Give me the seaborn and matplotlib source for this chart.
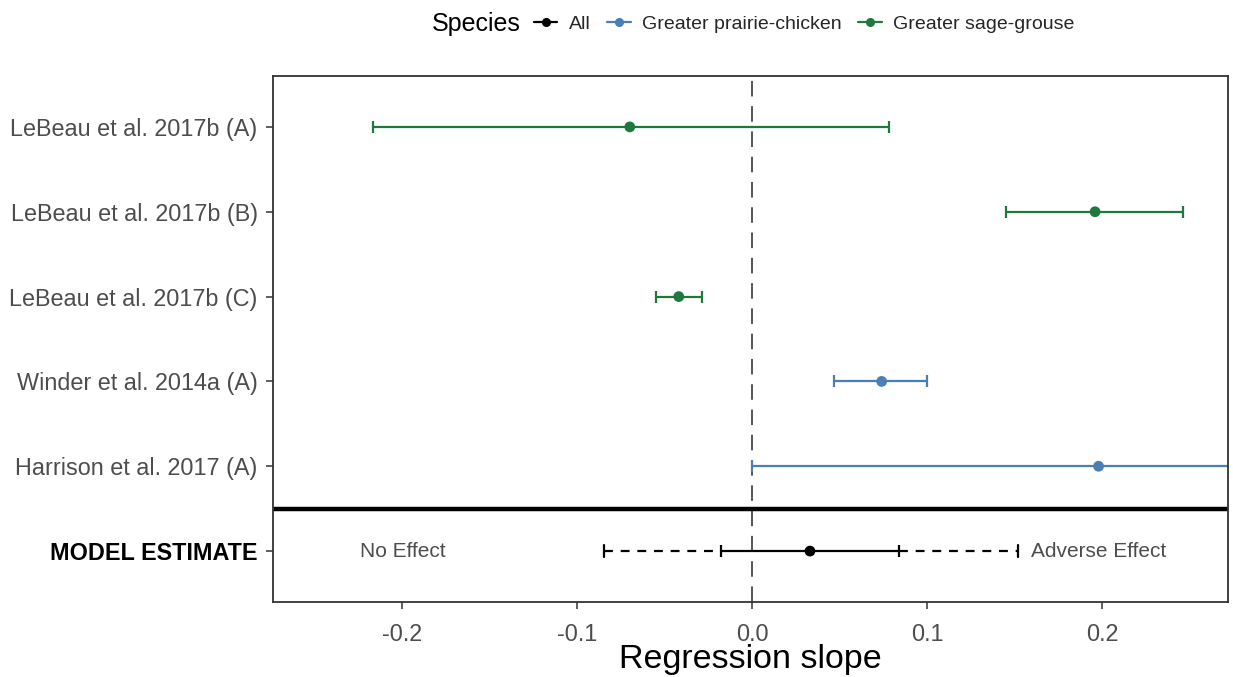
import matplotlib
matplotlib.use("Agg")
import matplotlib.pyplot as plt
from matplotlib.lines import Line2D
import seaborn as sns
import pandas as pd
import numpy as np

# ---------------- data ----------------
studies = ["LeBeau et al. 2017b (A)", "LeBeau et al. 2017b (B)", "LeBeau et al. 2017b (C)",
           "Winder et al. 2014a (A)", "Harrison et al. 2017 (A)"]
species = ["Greater sage-grouse", "Greater sage-grouse", "Greater sage-grouse",
           "Greater prairie-chicken", "Greater prairie-chicken"]
estimates = [-0.070, 0.196, -0.042, 0.074, 0.198]
lower = [-0.217, 0.145, -0.055, 0.047, 0.000]
upper = [0.078, 0.246, -0.029, 0.100, 0.400]

model_label = "MODEL ESTIMATE"
model_est = 0.033
model_ci = [-0.018, 0.084]
model_pi = [-0.085, 0.152]

species_order = ["All", "Greater prairie-chicken", "Greater sage-grouse"]
palette = {"All": "black", "Greater prairie-chicken": "#4a7fb6", "Greater sage-grouse": "#1e7a3c"}

# ---------------- figure ----------------
sns.set_theme(style="white")
plt.rcParams["font.family"] = ["Liberation Sans", "DejaVu Sans"]

fig = plt.figure(figsize=(12.33, 6.77), dpi=100)
ax = fig.add_axes([273/1233, 75/677, (1228-273)/1233, (602-76)/677])

df = pd.DataFrame({"study": studies, "species": species, "estimate": estimates,
                   "lower": lower, "upper": upper})
df["y"] = np.arange(len(df))
ymodel = len(df)

# zero line
ax.axvline(0, color="#555555", lw=1.4, ls=(0, (8, 5)), zorder=1)

# study intervals
for _, r in df.iterrows():
    c = palette[r["species"]]
    ax.errorbar(r["estimate"], r["y"],
                xerr=[[r["estimate"] - r["lower"]], [r["upper"] - r["estimate"]]],
                fmt="none", ecolor=c, elinewidth=1.6, capsize=4.5, capthick=1.6, zorder=2)

sns.scatterplot(data=df, x="estimate", y="y", hue="species", palette=palette,
                s=60, edgecolor="none", legend=False, ax=ax, zorder=3)

# model estimate: prediction interval (dashed) and CI (solid)
cap = 0.07
ax.plot([model_pi[0], model_ci[0]], [ymodel, ymodel], color="black", lw=1.6, ls=(0, (4, 3.5)), zorder=2)
ax.plot([model_ci[1], model_pi[1]], [ymodel, ymodel], color="black", lw=1.6, ls=(0, (4, 3.5)), zorder=2)
for xv in model_pi:
    ax.plot([xv, xv], [ymodel - cap, ymodel + cap], color="black", lw=1.6, zorder=2)
ax.errorbar(model_est, ymodel, xerr=[[model_est - model_ci[0]], [model_ci[1] - model_est]],
            fmt="none", ecolor="black", elinewidth=1.6, capsize=4.5, capthick=1.6, zorder=2)
sns.scatterplot(x=[model_est], y=[ymodel], color="black", s=60, edgecolor="none", ax=ax, zorder=3)

# separator line
ax.axhline(ymodel - 0.5, color="black", lw=3.2, zorder=2)

# annotations
ax.text(-0.2, ymodel, "No Effect", ha="center", va="center", fontsize=15, color="#4d4d4d")
ax.text(0.198, ymodel, "Adverse Effect", ha="center", va="center", fontsize=15, color="#4d4d4d")

# axes
ax.set_xlim(-0.274, 0.272)
ax.set_ylim(ymodel + 0.6, -0.6)
ax.set_yticks(list(df["y"]) + [ymodel])
ax.set_yticklabels(studies + [model_label])
ax.set_xticks([-0.2, -0.1, 0.0, 0.1, 0.2])
ax.set_xticklabels(["-0.2", "-0.1", "0.0", "0.1", "0.2"])
ax.tick_params(axis="both", labelsize=16.8, labelcolor="#4d4d4d", length=5, width=1.1,
               color="#333333", direction="out", left=True, bottom=True)
ax.tick_params(axis="x", pad=10)
ax.tick_params(axis="y", pad=6)
lab = ax.get_yticklabels()[-1]
lab.set_fontweight("bold")
lab.set_color("black")
ax.set_xlabel("Regression slope", fontsize=24.5, color="black")
ax.xaxis.label.set_va("baseline")
ax.xaxis.set_label_coords(0.5, -(668 - 602) / 526)
ax.set_ylabel("")
for s in ax.spines.values():
    s.set_color("#333333")
    s.set_linewidth(1.3)

# legend
fig.text(432/1233, 1 - 24/677, "Species", ha="left", va="center", fontsize=18, color="black")
handles = [Line2D([], [], color=palette[s], lw=1.6, marker="o", markersize=5.5) for s in species_order]
leg = fig.legend(handles, species_order, loc="center left", bbox_to_anchor=(534/1233, 1 - 24/677),
                 ncol=3, frameon=False, fontsize=14, handlelength=1.2, handletextpad=0.6,
                 columnspacing=0.85, borderpad=0, borderaxespad=0)

fig.savefig("out.png", dpi=100)
